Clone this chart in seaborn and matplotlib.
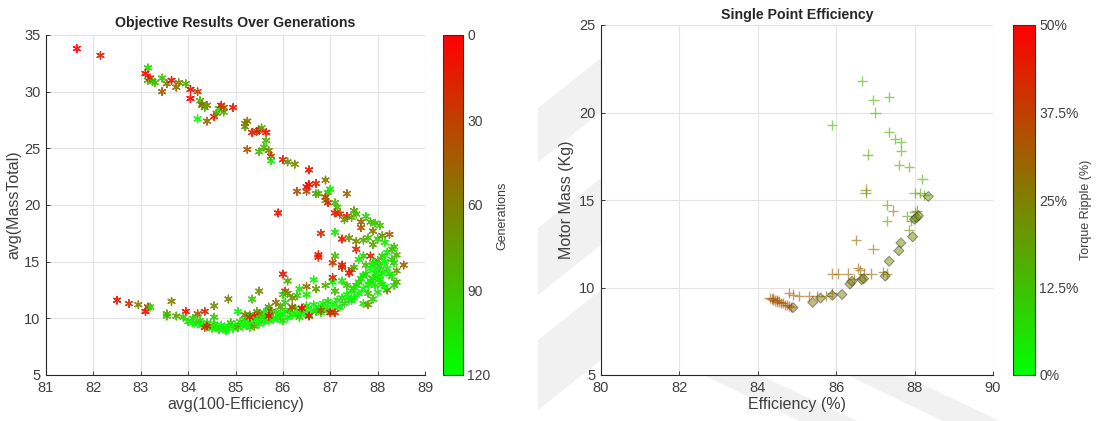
import numpy as np
import pandas as pd
import matplotlib
matplotlib.use("Agg")
import matplotlib.pyplot as plt
import seaborn as sns
from matplotlib.colors import LinearSegmentedColormap, Normalize
from matplotlib.cm import ScalarMappable
from matplotlib.patches import Polygon

# ---- left panel: objective results over generations (x, y, generation)
gen_pts = [
    (81.65, 33.8, 0), (82.15, 33.2, 15),
    (83.15, 32.1, 100), (83.1, 31.6, 0), (83.15, 31.0, 80), (83.2, 31.2, 10), (83.25, 30.9, 95),
    (83.3, 30.8, 90), (83.45, 31.2, 90), (83.45, 30.0, 40), (83.55, 30.7, 55), (83.65, 31.0, 5),
    (83.75, 30.4, 50), (83.8, 30.8, 60), (83.95, 30.7, 80), (84.05, 30.2, 5), (84.05, 29.4, 0),
    (84.2, 30.0, 30), (84.25, 29.2, 90), (84.3, 28.9, 70), (84.3, 28.8, 45), (84.4, 28.8, 60),
    (84.35, 28.6, 80), (84.2, 27.6, 120), (84.4, 27.4, 50), (84.55, 27.8, 10), (84.6, 28.1, 70),
    (84.65, 28.5, 100), (84.7, 28.8, 5), (84.75, 28.2, 80), (84.75, 28.6, 40), (84.95, 28.6, 10),
    (85.2, 27.2, 60), (85.2, 26.9, 70), (85.25, 27.4, 55), (85.35, 26.4, 10), (85.45, 26.5, 30),
    (85.5, 26.6, 5), (85.55, 26.8, 80), (85.65, 26.4, 5), (85.65, 25.7, 85), (85.6, 25.1, 90),
    (85.5, 24.7, 85), (85.25, 24.9, 40), (85.7, 24.8, 60), (85.75, 24.3, 20), (85.75, 23.9, 110),
    (86.0, 24.0, 15), (86.1, 23.8, 70), (86.25, 23.6, 65),
    (86.55, 23.1, 10), (86.3, 21.2, 35), (86.5, 21.2, 40), (86.5, 21.6, 10), (86.55, 21.8, 5),
    (86.7, 21.9, 15), (86.7, 21.0, 85), (86.75, 21.0, 80), (86.9, 22.2, 55), (86.95, 21.1, 95),
    (87.0, 21.4, 110), (86.9, 20.4, 80), (86.95, 20.2, 20), (86.9, 20.7, 30), (87.35, 21.0, 45),
    (87.1, 20.2, 90), (87.15, 19.8, 85), (87.1, 19.3, 10), (87.2, 19.2, 20), (87.35, 19.0, 15),
    (87.3, 18.7, 70), (87.45, 18.9, 80), (87.5, 19.5, 75), (87.55, 19.2, 90), (87.65, 18.5, 50),
    (87.75, 19.0, 100), (87.65, 18.0, 40), (87.85, 18.5, 85), (87.95, 18.4, 95), (88.05, 18.2, 90),
    (87.9, 17.7, 60), (87.1, 17.6, 110), (87.25, 17.0, 10), (87.4, 17.1, 70), (87.55, 16.8, 65),
    (87.55, 16.1, 15), (87.7, 16.9, 80), (87.8, 17.1, 90), (88.0, 17.0, 100), (88.1, 17.3, 70),
    (88.25, 17.4, 45), (88.15, 16.7, 110), (87.9, 16.5, 75),
    (85.9, 19.3, 5), (86.8, 17.5, 20), (86.75, 15.6, 10), (86.75, 15.4, 15), (87.1, 15.5, 90),
    (87.05, 14.9, 30), (87.25, 14.7, 15), (87.25, 14.5, 20), (87.45, 14.3, 35), (87.4, 14.0, 10),
    (87.5, 14.5, 80), (87.6, 15.2, 110), (87.7, 15.5, 100), (87.85, 15.5, 20), (87.75, 14.7, 90),
    (87.9, 14.9, 105), (88.0, 15.1, 80), (88.1, 15.5, 100), (88.2, 15.8, 115), (88.3, 16.1, 90),
    (88.35, 16.3, 95), (88.4, 15.6, 85), (88.55, 14.7, 45), (88.4, 14.2, 70), (88.35, 14.9, 100),
    (88.3, 13.7, 110), (88.4, 13.2, 80), (88.35, 12.9, 95), (88.1, 13.0, 90), (88.2, 12.5, 60),
    (87.95, 14.0, 110), (88.0, 13.6, 100), (87.85, 13.3, 95), (87.7, 13.8, 120), (87.6, 13.2, 100),
    (87.5, 12.7, 110), (87.8, 12.2, 90), (88.0, 12.3, 115), (87.9, 11.7, 100), (87.7, 11.3, 110),
    (87.45, 11.6, 105), (87.8, 11.2, 70), (87.25, 13.3, 110), (87.35, 12.9, 90), (87.05, 13.2, 120),
    (87.1, 12.4, 90), (87.05, 13.6, 20), (86.9, 12.9, 80), (86.65, 13.4, 115), (86.7, 12.6, 75),
    (86.5, 12.8, 50), (86.5, 12.1, 105), (86.3, 12.0, 100), (86.35, 12.6, 110), (86.1, 13.3, 80),
    (86.0, 13.9, 10), (86.05, 12.4, 25), (86.1, 12.2, 70), (86.0, 12.1, 90), (86.2, 11.8, 65),
    (86.05, 11.4, 100),
    (85.95, 11.0, 80), (85.85, 11.4, 55), (85.7, 11.0, 70), (85.5, 12.4, 65), (85.35, 11.7, 95),
    (85.7, 10.8, 90), (85.75, 10.6, 30), (85.6, 10.5, 110), (85.45, 10.6, 75), (85.5, 10.4, 60),
    (85.4, 10.2, 10), (85.3, 10.3, 100), (85.2, 10.3, 55), (85.05, 10.6, 120), (84.85, 11.7, 60),
    (84.55, 11.1, 70), (84.55, 10.1, 95), (84.35, 10.6, 15), (84.2, 10.4, 40), (83.95, 10.6, 5),
    (83.65, 11.5, 60), (83.55, 10.4, 75), (83.55, 10.2, 90), (83.75, 10.2, 80), (83.9, 10.1, 95),
    (84.1, 10.0, 100), (82.5, 11.6, 10), (82.75, 11.3, 20), (82.95, 11.2, 60), (83.1, 10.6, 5),
    (83.15, 11.0, 20), (83.2, 11.0, 105),
    (84.0, 9.7, 110), (84.1, 9.6, 120), (84.2, 9.5, 115), (84.25, 9.8, 100), (84.3, 9.4, 120),
    (84.35, 9.2, 30), (84.4, 9.6, 110), (84.45, 9.3, 120), (84.5, 9.1, 115), (84.55, 9.5, 105),
    (84.6, 9.2, 120), (84.65, 9.0, 110), (84.7, 9.4, 120), (84.75, 9.1, 115), (84.8, 8.9, 120),
    (84.85, 9.3, 110), (84.9, 9.6, 100), (84.95, 9.1, 120), (85.0, 9.4, 115), (85.05, 9.2, 80),
    (85.1, 9.7, 110), (85.15, 9.3, 120), (85.2, 9.9, 100), (85.25, 9.5, 115), (85.3, 9.2, 110),
    (85.35, 9.7, 120), (85.4, 9.3, 70), (85.45, 9.9, 115), (85.5, 9.5, 120), (85.55, 10.1, 105),
    (85.6, 9.7, 110), (85.65, 10.2, 120), (85.7, 9.8, 115), (85.75, 10.3, 100), (85.8, 9.9, 120),
    (85.85, 10.5, 110), (85.9, 10.0, 115), (85.95, 10.4, 120), (86.0, 9.8, 105), (86.05, 10.6, 110),
    (86.1, 10.1, 120), (86.15, 10.7, 90), (86.2, 10.3, 115), (86.25, 10.9, 110), (86.3, 10.4, 120),
    (86.35, 10.1, 100), (86.4, 10.8, 115), (86.45, 10.5, 120), (86.5, 11.1, 105), (86.55, 10.3, 110),
    (86.6, 10.7, 120), (86.65, 11.2, 115), (86.7, 10.6, 100), (86.75, 11.0, 120), (86.8, 10.5, 110),
    (86.85, 11.3, 115), (86.9, 10.9, 120), (86.95, 11.5, 105), (87.0, 10.7, 110), (87.05, 11.2, 120),
    (87.1, 10.5, 20), (87.15, 11.6, 115), (87.2, 11.0, 120), (87.25, 11.8, 110), (87.3, 11.3, 100),
    (87.35, 12.1, 120), (87.4, 11.6, 115), (87.45, 12.4, 110), (87.5, 11.8, 120), (87.55, 12.9, 105),
    (87.6, 12.2, 115), (87.65, 13.5, 110), (87.7, 12.6, 120), (87.75, 13.9, 100), (87.8, 13.0, 115),
    (87.85, 14.4, 120), (87.9, 13.5, 110), (87.95, 14.8, 115), (88.0, 14.2, 120), (88.05, 14.6, 105),
    (88.1, 14.0, 110), (88.15, 15.0, 120), (88.2, 14.4, 115), (88.25, 13.9, 110), (88.3, 15.2, 100),
    (88.05, 13.4, 115), (88.15, 12.8, 120), (87.95, 12.9, 110),
    (85.7, 10.2, 10), (86.4, 10.9, 5), (86.55, 10.2, 15), (87.0, 10.5, 10), (85.3, 10.1, 25),
    (84.4, 9.3, 20), (86.2, 11.0, 40), (86.8, 10.7, 45),
]
gen_x = [p[0] for p in gen_pts]
gen_y = [p[1] for p in gen_pts]
gen_g = [p[2] for p in gen_pts]
gen_ticks = [0, 30, 60, 90, 120]

# ---- right panel: single point efficiency (efficiency %, mass kg, ripple %)
cand_pts = [
    (86.65, 21.8, 15), (86.95, 20.7, 15), (87.0, 20.0, 14), (87.35, 20.9, 16), (85.9, 19.3, 15),
    (87.35, 18.9, 17), (87.5, 18.5, 18), (87.65, 18.3, 16), (86.8, 17.6, 18), (87.65, 17.8, 17),
    (87.6, 17.0, 18), (87.85, 16.9, 17), (88.2, 16.2, 16), (86.75, 15.6, 25), (86.75, 15.4, 24),
    (88.0, 15.4, 18), (88.15, 15.4, 17), (88.25, 15.3, 19), (87.3, 14.7, 22), (87.45, 14.4, 25),
    (87.8, 14.1, 20), (88.0, 14.3, 22), (88.05, 14.4, 24), (87.9, 13.8, 23), (87.3, 13.8, 20),
    (87.85, 13.3, 24), (86.5, 12.7, 30), (86.95, 12.2, 28), (86.55, 11.1, 30), (86.6, 11.0, 31),
    (86.7, 10.8, 30), (86.9, 10.8, 29), (87.2, 10.9, 28), (87.3, 10.8, 27), (85.9, 10.8, 30),
    (86.05, 10.8, 30), (86.3, 10.8, 31), (86.45, 10.5, 30), (84.8, 9.7, 32), (84.9, 9.6, 31),
    (85.05, 9.5, 30), (85.3, 9.5, 31), (85.5, 9.5, 30), (85.75, 9.5, 29), (85.9, 9.7, 30),
    (84.3, 9.4, 33), (84.35, 9.35, 33), (84.4, 9.3, 33), (84.45, 9.25, 32), (84.5, 9.3, 33),
    (84.55, 9.2, 32), (84.6, 9.1, 33), (84.65, 9.1, 32), (84.7, 9.0, 33), (84.75, 9.0, 32),
    (84.8, 8.95, 33), (84.85, 8.9, 32), (84.4, 9.4, 32), (84.5, 9.2, 33),
]
cand_x = [p[0] for p in cand_pts]
cand_y = [p[1] for p in cand_pts]
cand_r = [p[2] for p in cand_pts]

front_pts = [
    (84.9, 8.85, 28), (85.4, 9.15, 27), (85.6, 9.4, 25), (85.9, 9.55, 26), (86.15, 9.6, 26),
    (86.35, 10.2, 25), (86.4, 10.35, 24), (86.65, 10.45, 24), (86.7, 10.5, 25), (87.25, 10.65, 24),
    (87.35, 11.5, 23), (87.6, 12.1, 22), (87.65, 12.55, 22), (87.95, 12.9, 22), (88.0, 13.9, 21),
    (88.05, 14.0, 21), (88.1, 14.1, 22), (88.35, 15.2, 20),
]
front_x = [p[0] for p in front_pts]
front_y = [p[1] for p in front_pts]
front_r = [p[2] for p in front_pts]
ripple_ticks = [0, 12.5, 25, 37.5, 50]
ripple_labels = ["0%", "12.5%", "25%", "37.5%", "50%"]

sns.set_theme(style="whitegrid")
plt.rcParams["font.family"] = ["Liberation Sans", "DejaVu Sans"]
plt.rcParams["grid.color"] = "#e3e3e3"
plt.rcParams["grid.linewidth"] = 0.8

green_red = LinearSegmentedColormap.from_list("gr", [(0, 1, 0), (1, 0, 0)])
red_green = LinearSegmentedColormap.from_list("rg", [(1, 0, 0), (0, 1, 0)])

W, H = 1097, 421
fig = plt.figure(figsize=(W / 100, H / 100), dpi=100)

# faint watermark stripes behind the right panel (pixel coords, y from top)
stripes = [
    [(538, 108), (601, 58), (601, 112), (538, 162)],
    [(538, 228), (601, 178), (601, 245), (538, 295)],
    [(538, 340), (601, 290), (601, 360), (538, 410)],
    [(703, 375), (760, 375), (857, 421), (800, 421)],
    [(847, 375), (903, 375), (1000, 421), (943, 421)],
]
for s in stripes:
    fig.patches.append(Polygon([(x / W, 1 - y / H) for x, y in s], closed=True,
                               transform=fig.transFigure, facecolor="#f1f1f1",
                               edgecolor="none", zorder=-5))

ax1 = fig.add_axes([46 / W, 46 / H, 379 / W, 340 / H])
cax1 = fig.add_axes([443 / W, 46 / H, 20 / W, 340 / H])
ax2 = fig.add_axes([601 / W, 46 / H, 392 / W, 350 / H])
cax2 = fig.add_axes([1013 / W, 46 / H, 22 / W, 350 / H])
for a in (ax1, cax1, ax2, cax2):
    a.patch.set_alpha(0.0)
    a.set_zorder(1)
ax1.patch.set_alpha(1.0)

asterisk = (6, 2, 0)

df1 = pd.DataFrame({"x": gen_x, "y": gen_y, "g": gen_g})
sns.scatterplot(data=df1, x="x", y="y", hue="g", palette=red_green, hue_norm=(0, 120),
                marker=asterisk, s=30, linewidth=1.0, alpha=0.9, legend=False, ax=ax1)

df2 = pd.DataFrame({"x": cand_x, "y": cand_y, "r": cand_r})
sns.scatterplot(data=df2, x="x", y="y", hue="r", palette=green_red, hue_norm=(0, 50),
                marker="+", s=55, linewidth=1.0, alpha=0.6, legend=False, ax=ax2)
df3 = pd.DataFrame({"x": front_x, "y": front_y, "r": front_r})
sns.scatterplot(data=df3, x="x", y="y", hue="r", palette=green_red, hue_norm=(0, 50),
                marker="D", s=26, edgecolor="#333333", linewidth=0.7, alpha=0.5,
                legend=False, ax=ax2)

for ax in (ax1, ax2):
    for side in ("top", "right"):
        ax.spines[side].set_visible(False)
    for side in ("left", "bottom"):
        ax.spines[side].set_color("#262626")
        ax.spines[side].set_linewidth(0.8)
    ax.tick_params(axis="both", direction="in", length=3, width=0.6, colors="#262626",
                   labelsize=10.5, labelcolor="#404040", pad=4, left=True, bottom=True)

ax1.set_xlim(81, 89)
ax1.set_ylim(5, 35)
ax1.set_xticks(range(81, 90))
ax1.set_yticks(range(5, 36, 5))
ax1.set_xlabel("avg(100-Efficiency)", fontsize=11.5, color="#404040", labelpad=2)
ax1.set_ylabel("avg(MassTotal)", fontsize=11.5, color="#404040", labelpad=2)
ax1.set_title("Objective Results Over Generations", fontsize=10.2, fontweight="bold", pad=6)

ax2.set_xlim(80, 90)
ax2.set_ylim(5, 25)
ax2.set_xticks(range(80, 91, 2))
ax2.set_yticks(range(5, 26, 5))
ax2.set_xlabel("Efficiency (%)", fontsize=11.5, color="#404040", labelpad=2)
ax2.set_ylabel("Motor Mass (Kg)", fontsize=11.5, color="#404040", labelpad=4)
ax2.set_title("Single Point Efficiency", fontsize=10.2, fontweight="bold", pad=4)

cb1 = fig.colorbar(ScalarMappable(norm=Normalize(0, 120), cmap=red_green), cax=cax1)
cb1.set_ticks(gen_ticks)
cax1.invert_yaxis()
fig.text(502 / W, 1 - 216 / H, "Generations", rotation=90, ha="center", va="center",
         fontsize=9, color="#404040")

cb2 = fig.colorbar(ScalarMappable(norm=Normalize(0, 50), cmap=green_red), cax=cax2)
cb2.set_ticks(ripple_ticks)
cb2.set_ticklabels(ripple_labels)
fig.text(1086 / W, 1 - 210 / H, "Torque Ripple (%)", rotation=90, ha="center", va="center",
         fontsize=9, color="#404040")

for cb, cax in ((cb1, cax1), (cb2, cax2)):
    cb.outline.set_edgecolor("#333333")
    cb.outline.set_linewidth(0.8)
    cax.tick_params(length=3, direction="in", width=0.6, labelsize=10, labelcolor="#404040", pad=3)

fig.savefig("out.png", dpi=100)
